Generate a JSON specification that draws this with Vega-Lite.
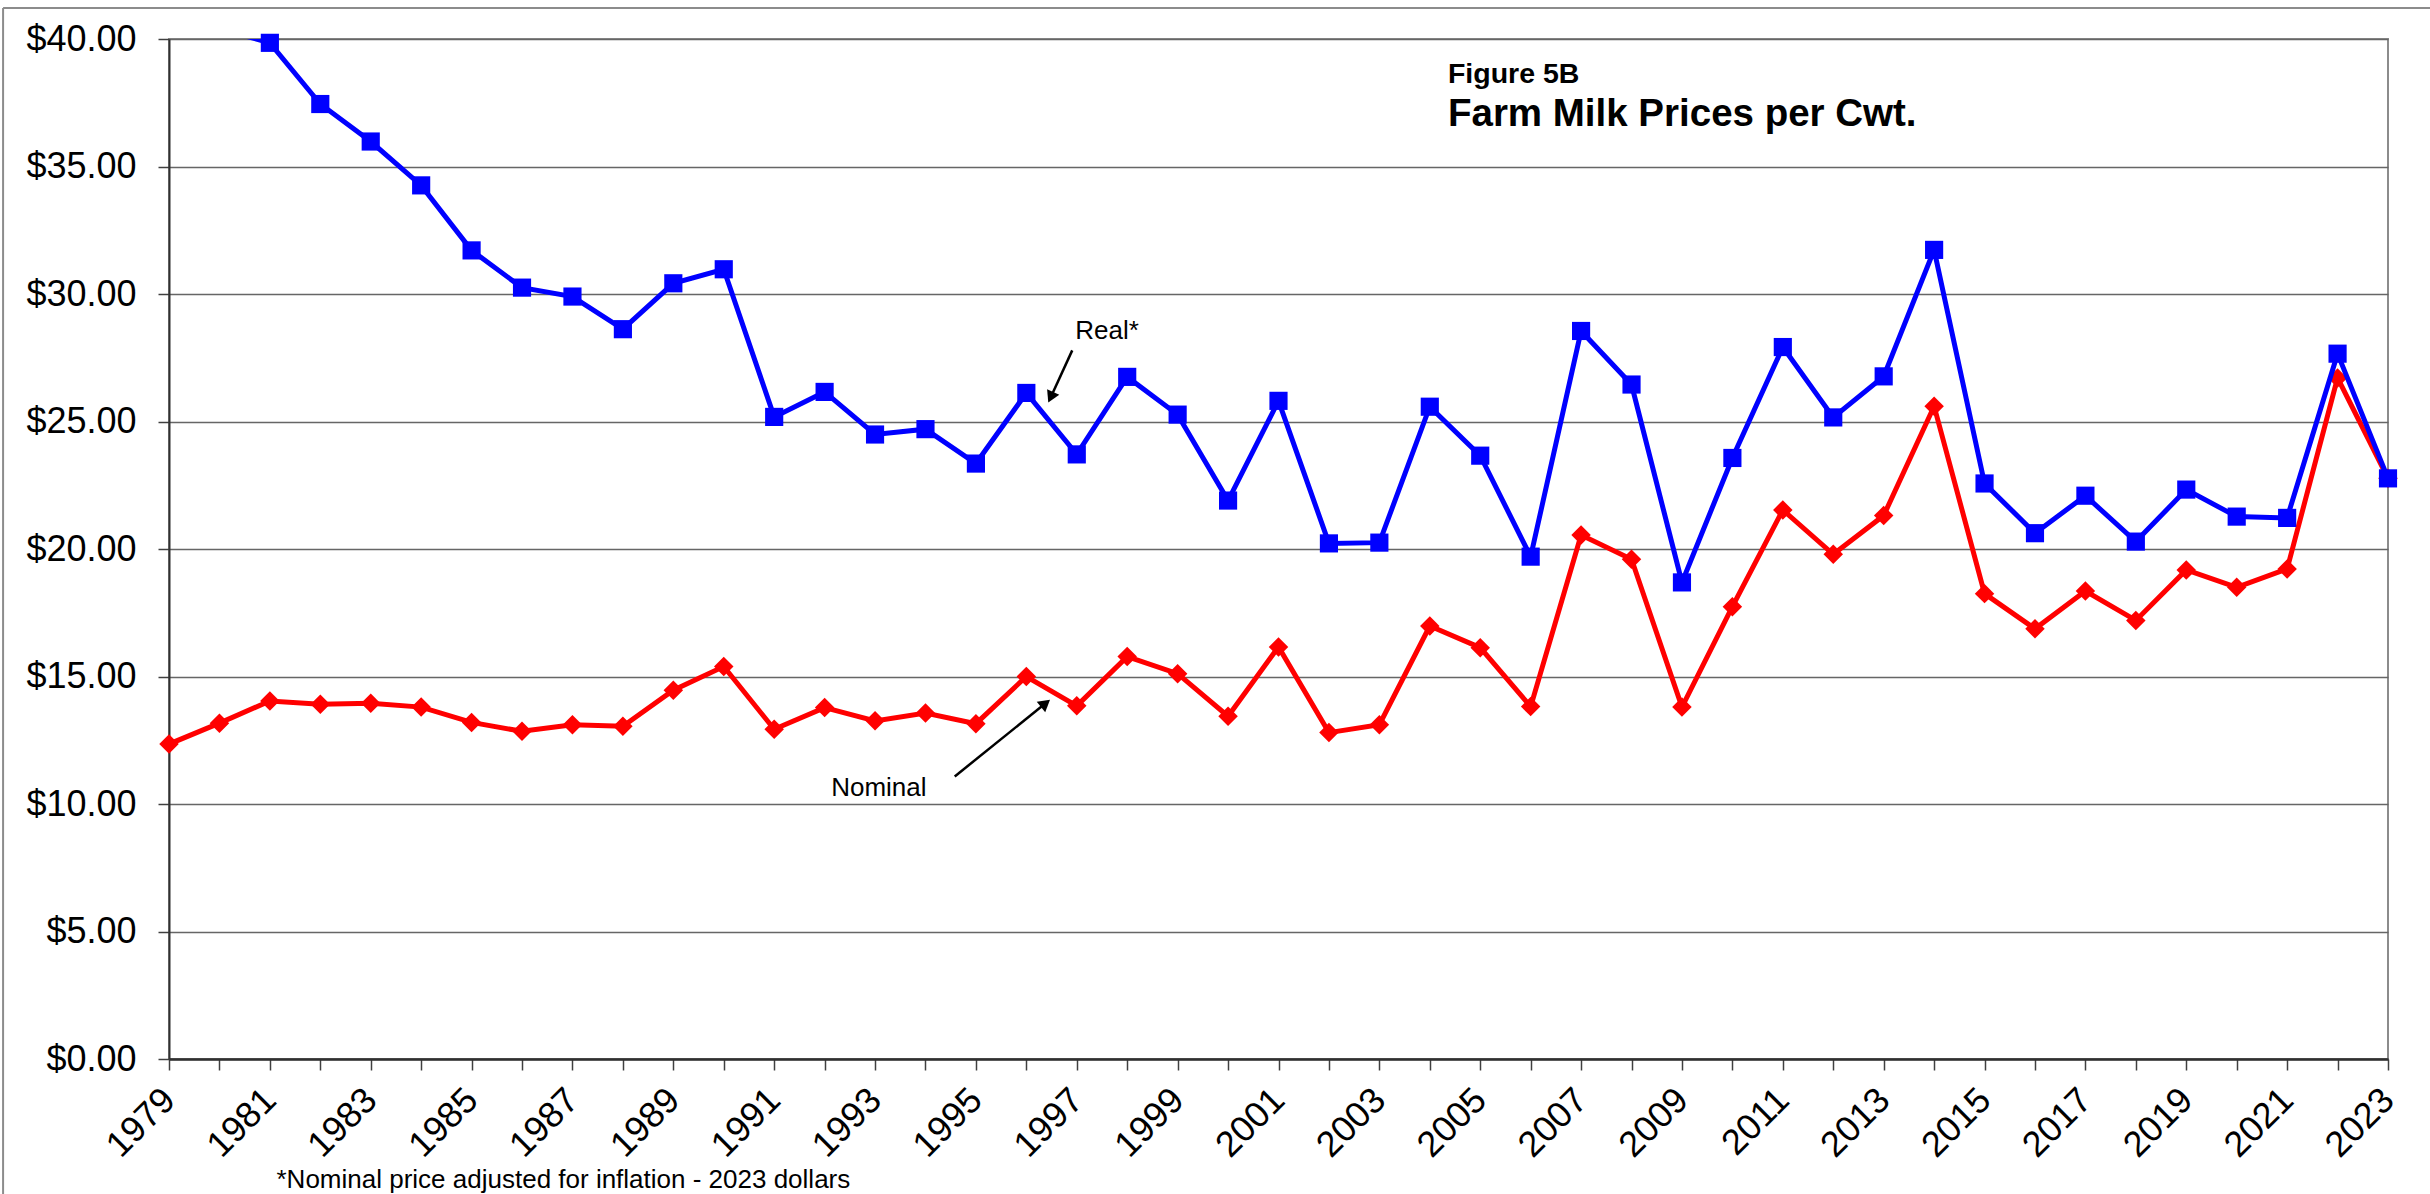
{
  "$schema": "https://vega.github.io/schema/vega-lite/v6.json",
  "width": 2219,
  "height": 1020,
  "autosize": {"type": "none"},
  "padding": {"left": 169, "top": 39, "right": 42, "bottom": 135},
  "background": "white",
  "config": {
    "font": "Liberation Sans",
    "view": {"stroke": "#8c8c8c", "strokeWidth": 2}
  },
  "datasets": {
    "prices": [
      {"year": 1979, "series": "Real", "price": 41.4},
      {"year": 1980, "series": "Real", "price": 40.4},
      {"year": 1981, "series": "Real", "price": 39.85},
      {"year": 1982, "series": "Real", "price": 37.45},
      {"year": 1983, "series": "Real", "price": 35.98},
      {"year": 1984, "series": "Real", "price": 34.26},
      {"year": 1985, "series": "Real", "price": 31.71},
      {"year": 1986, "series": "Real", "price": 30.25},
      {"year": 1987, "series": "Real", "price": 29.9},
      {"year": 1988, "series": "Real", "price": 28.62},
      {"year": 1989, "series": "Real", "price": 30.42},
      {"year": 1990, "series": "Real", "price": 30.97},
      {"year": 1991, "series": "Real", "price": 25.18},
      {"year": 1992, "series": "Real", "price": 26.16},
      {"year": 1993, "series": "Real", "price": 24.49},
      {"year": 1994, "series": "Real", "price": 24.7},
      {"year": 1995, "series": "Real", "price": 23.35},
      {"year": 1996, "series": "Real", "price": 26.12},
      {"year": 1997, "series": "Real", "price": 23.71},
      {"year": 1998, "series": "Real", "price": 26.75},
      {"year": 1999, "series": "Real", "price": 25.27},
      {"year": 2000, "series": "Real", "price": 21.9},
      {"year": 2001, "series": "Real", "price": 25.81},
      {"year": 2002, "series": "Real", "price": 20.22},
      {"year": 2003, "series": "Real", "price": 20.25},
      {"year": 2004, "series": "Real", "price": 25.58},
      {"year": 2005, "series": "Real", "price": 23.66},
      {"year": 2006, "series": "Real", "price": 19.7},
      {"year": 2007, "series": "Real", "price": 28.55},
      {"year": 2008, "series": "Real", "price": 26.45},
      {"year": 2009, "series": "Real", "price": 18.69},
      {"year": 2010, "series": "Real", "price": 23.57},
      {"year": 2011, "series": "Real", "price": 27.92},
      {"year": 2012, "series": "Real", "price": 25.16},
      {"year": 2013, "series": "Real", "price": 26.77},
      {"year": 2014, "series": "Real", "price": 31.73},
      {"year": 2015, "series": "Real", "price": 22.57},
      {"year": 2016, "series": "Real", "price": 20.62},
      {"year": 2017, "series": "Real", "price": 22.09},
      {"year": 2018, "series": "Real", "price": 20.29},
      {"year": 2019, "series": "Real", "price": 22.33},
      {"year": 2020, "series": "Real", "price": 21.27},
      {"year": 2021, "series": "Real", "price": 21.22},
      {"year": 2022, "series": "Real", "price": 27.66},
      {"year": 2023, "series": "Real", "price": 22.77},
      {"year": 1979, "series": "Nominal", "price": 12.35},
      {"year": 1980, "series": "Nominal", "price": 13.17},
      {"year": 1981, "series": "Nominal", "price": 14.04},
      {"year": 1982, "series": "Nominal", "price": 13.91},
      {"year": 1983, "series": "Nominal", "price": 13.95},
      {"year": 1984, "series": "Nominal", "price": 13.8},
      {"year": 1985, "series": "Nominal", "price": 13.2},
      {"year": 1986, "series": "Nominal", "price": 12.85},
      {"year": 1987, "series": "Nominal", "price": 13.11},
      {"year": 1988, "series": "Nominal", "price": 13.05},
      {"year": 1989, "series": "Nominal", "price": 14.46},
      {"year": 1990, "series": "Nominal", "price": 15.39},
      {"year": 1991, "series": "Nominal", "price": 12.93},
      {"year": 1992, "series": "Nominal", "price": 13.78},
      {"year": 1993, "series": "Nominal", "price": 13.26},
      {"year": 1994, "series": "Nominal", "price": 13.57},
      {"year": 1995, "series": "Nominal", "price": 13.15},
      {"year": 1996, "series": "Nominal", "price": 15.0},
      {"year": 1997, "series": "Nominal", "price": 13.85},
      {"year": 1998, "series": "Nominal", "price": 15.78},
      {"year": 1999, "series": "Nominal", "price": 15.11},
      {"year": 2000, "series": "Nominal", "price": 13.44},
      {"year": 2001, "series": "Nominal", "price": 16.16},
      {"year": 2002, "series": "Nominal", "price": 12.8},
      {"year": 2003, "series": "Nominal", "price": 13.11},
      {"year": 2004, "series": "Nominal", "price": 16.98},
      {"year": 2005, "series": "Nominal", "price": 16.13},
      {"year": 2006, "series": "Nominal", "price": 13.82},
      {"year": 2007, "series": "Nominal", "price": 20.55},
      {"year": 2008, "series": "Nominal", "price": 19.6},
      {"year": 2009, "series": "Nominal", "price": 13.8},
      {"year": 2010, "series": "Nominal", "price": 17.74},
      {"year": 2011, "series": "Nominal", "price": 21.53},
      {"year": 2012, "series": "Nominal", "price": 19.79},
      {"year": 2013, "series": "Nominal", "price": 21.31},
      {"year": 2014, "series": "Nominal", "price": 25.6},
      {"year": 2015, "series": "Nominal", "price": 18.25},
      {"year": 2016, "series": "Nominal", "price": 16.87},
      {"year": 2017, "series": "Nominal", "price": 18.35},
      {"year": 2018, "series": "Nominal", "price": 17.2},
      {"year": 2019, "series": "Nominal", "price": 19.18},
      {"year": 2020, "series": "Nominal", "price": 18.5},
      {"year": 2021, "series": "Nominal", "price": 19.22},
      {"year": 2022, "series": "Nominal", "price": 26.71},
      {"year": 2023, "series": "Nominal", "price": 22.77}
    ]
  },
  "layer": [
    {
      "data": {"name": "prices"},
      "encoding": {
        "x": {
          "field": "year",
          "type": "quantitative",
          "scale": {"domain": [1979, 2023], "nice": false, "zero": false},
          "axis": {
            "values": [1979,1980,1981,1982,1983,1984,1985,1986,1987,1988,1989,1990,1991,1992,1993,1994,1995,1996,1997,1998,1999,2000,2001,2002,2003,2004,2005,2006,2007,2008,2009,2010,2011,2012,2013,2014,2015,2016,2017,2018,2019,2020,2021,2022,2023],
            "format": "d",
            "labelExpr": "datum.value % 2 == 1 ? datum.label : ''",
            "labelAngle": -45,
            "labelAlign": "right",
            "labelBaseline": "middle",
            "labelPadding": 24,
            "labelFontSize": 36,
            "labelColor": "#000000",
            "labelOverlap": false,
            "labelFlush": false,
            "labelBound": false,
            "grid": false,
            "tickSize": 11,
            "tickColor": "#404040",
            "tickWidth": 1.5,
            "domainColor": "#303030",
            "domainWidth": 2.5,
            "title": "*Nominal price adjusted for inflation - 2023 dollars",
            "titleFontSize": 26,
            "titleFontWeight": "normal",
            "titleColor": "#000000",
            "titleX": 107,
            "titleY": 128,
            "titleAlign": "left",
            "titleBaseline": "alphabetic",
            "titleAngle": 0
          }
        },
        "y": {
          "field": "price",
          "type": "quantitative",
          "scale": {"domain": [0, 40], "nice": false},
          "axis": {
            "values": [0, 5, 10, 15, 20, 25, 30, 35, 40],
            "format": "$.2f",
            "labelFontSize": 36,
            "labelColor": "#000000",
            "labelPadding": 22,
            "tickSize": 11,
            "tickColor": "#404040",
            "tickWidth": 1.5,
            "domainColor": "#303030",
            "domainWidth": 2,
            "grid": true,
            "gridColor": "#666666",
            "gridWidth": 1.5,
            "title": null
          }
        }
      },
      "layer": [
        {
          "transform": [{"filter": "datum.series == 'Nominal'"}],
          "mark": {"type": "line", "color": "#ff0000", "strokeWidth": 5, "clip": true}
        },
        {
          "transform": [{"filter": "datum.series == 'Nominal'"}],
          "mark": {"type": "point", "shape": "diamond", "filled": true, "color": "#ff0000", "size": 380, "opacity": 1}
        },
        {
          "transform": [{"filter": "datum.series == 'Real'"}],
          "mark": {"type": "line", "color": "#0000ff", "strokeWidth": 5, "clip": true}
        },
        {
          "transform": [{"filter": "datum.series == 'Real' && datum.price <= 40"}],
          "mark": {"type": "point", "shape": "square", "filled": true, "color": "#0000ff", "size": 330, "opacity": 1}
        }
      ]
    },
    {
      "data": {"values": [{"label": "Figure 5B"}]},
      "mark": {"type": "text", "fontSize": 28.5, "fontWeight": "bold", "align": "left", "baseline": "alphabetic", "color": "#000000"},
      "encoding": {"text": {"field": "label"}, "x": {"datum": 2004.36}, "y": {"datum": 38.27}}
    },
    {
      "data": {"values": [{"label": "Farm Milk Prices per Cwt."}]},
      "mark": {"type": "text", "fontSize": 38.5, "fontWeight": "bold", "align": "left", "baseline": "alphabetic", "color": "#000000"},
      "encoding": {"text": {"field": "label"}, "x": {"datum": 2004.36}, "y": {"datum": 36.57}}
    },
    {
      "data": {"values": [{"label": "Real*"}]},
      "mark": {"type": "text", "fontSize": 26, "align": "left", "baseline": "alphabetic", "color": "#000000"},
      "encoding": {"text": {"field": "label"}, "x": {"datum": 1996.97}, "y": {"datum": 28.24}}
    },
    {
      "data": {"values": [{"label": "Nominal"}]},
      "mark": {"type": "text", "fontSize": 26, "align": "left", "baseline": "alphabetic", "color": "#000000"},
      "encoding": {"text": {"field": "label"}, "x": {"datum": 1992.13}, "y": {"datum": 10.32}}
    },
    {
      "data": {"values": [{"arrow": "real"}]},
      "mark": {"type": "rule", "color": "#000000", "strokeWidth": 2.5},
      "encoding": {"x": {"datum": 1996.91}, "y": {"datum": 27.79}, "x2": {"datum": 1996.5}, "y2": {"datum": 26.02}}
    },
    {
      "data": {"values": [{"arrow": "nominal"}]},
      "mark": {"type": "rule", "color": "#000000", "strokeWidth": 2.5},
      "encoding": {"x": {"datum": 1994.58}, "y": {"datum": 11.08}, "x2": {"datum": 1996.35}, "y2": {"datum": 13.9}}
    },
    {
      "data": {"values": [{"arrow": "real"}]},
      "mark": {"type": "point", "shape": "triangle", "filled": true, "color": "#000000", "size": 180, "angle": 205, "opacity": 1},
      "encoding": {"x": {"datum": 1996.5}, "y": {"datum": 26.02}}
    },
    {
      "data": {"values": [{"arrow": "nominal"}]},
      "mark": {"type": "point", "shape": "triangle", "filled": true, "color": "#000000", "size": 180, "angle": 51, "opacity": 1},
      "encoding": {"x": {"datum": 1996.35}, "y": {"datum": 13.9}}
    },
    {
      "data": {"values": [{"frame": "top"}]},
      "mark": {"type": "rule", "color": "#8c8c8c", "strokeWidth": 2},
      "encoding": {"x": {"datum": 1975.71}, "y": {"datum": 41.22}, "x2": {"datum": 2023.9}}
    },
    {
      "data": {"values": [{"frame": "left"}]},
      "mark": {"type": "rule", "color": "#8c8c8c", "strokeWidth": 2},
      "encoding": {"x": {"datum": 1975.71}, "y": {"datum": 41.22}, "y2": {"datum": -5.4}}
    }
  ]
}
